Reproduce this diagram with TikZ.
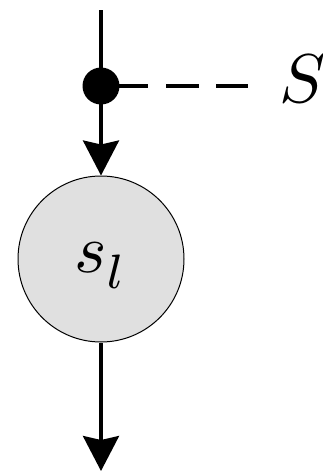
\documentclass[tikz,border=0pt]{standalone}
\usetikzlibrary{arrows.meta}
\begin{document}
\begin{tikzpicture}[x=1pt,y=-1pt,
  wire/.style={line width=3.3pt},
  arr/.style={wire,-{Stealth[length=35pt,width=36pt,inset=4pt]}},
  dotnode/.style={circle,fill=black,inner sep=0pt,minimum size=37pt},
  statenode/.style={circle,draw=black,line width=1pt,fill={rgb,255:red,224;green,224;blue,224},minimum size=166pt,inner sep=0pt},
  lbl/.style={inner sep=0pt}]
\useasboundingbox (0,0) rectangle (322,471);
\coordinate (top) at (101,10);
\coordinate (j) at (101,86);
\coordinate (dend) at (248,86);
\coordinate (bot) at (101,471);
\node[statenode] (c) at (101,259) {};
\node[lbl] (sl) at (101,266) {\scalebox{6.9}{$s_{\raisebox{-0.8pt}{$\scriptstyle l$}}$}};
\node[lbl] (S) at (303,79) {\scalebox{6.9}{$S$}};
\draw[wire] (top) -- (j);
\draw[wire,dash pattern=on 47pt off 18pt on 33pt off 17pt] (j) -- (dend);
\draw[arr] (j) -- (c.north);
\draw[arr] (c.south) -- (bot);
\node[dotnode] (jd) at (j) {};
\end{tikzpicture}
\end{document}
